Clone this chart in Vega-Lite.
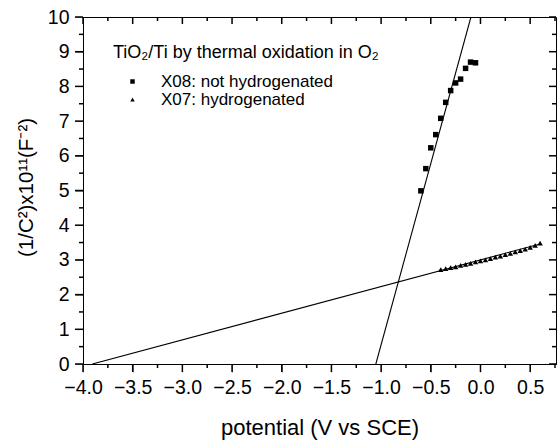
{
  "$schema": "https://vega.github.io/schema/vega-lite/v6.json",
  "autosize": {"type": "none"},
  "padding": {"left": 83, "top": 17, "right": 3, "bottom": 82},
  "width": 473,
  "height": 347,
  "background": "white",
  "config": {
    "view": {"stroke": "black", "strokeWidth": 1},
    "font": "Liberation Sans",
    "tick": {"thickness": 1.5, "opacity": 1},
    "axis": {
      "domainColor": "black",
      "domainWidth": 1,
      "labelColor": "black",
      "titleColor": "black",
      "labelFont": "Liberation Sans",
      "titleFont": "Liberation Sans",
      "titleFontWeight": "normal",
      "grid": false
    }
  },
  "datasets": {
    "fits": [
      {"line": "steep", "v": -1.053, "c": 0},
      {"line": "steep", "v": -0.096, "c": 10},
      {"line": "shallow", "v": -3.906, "c": 0},
      {"line": "shallow", "v": 0.6, "c": 3.46}
    ],
    "xticks": [
      {"v": -4, "kind": "major"}, {"v": -3.75, "kind": "minor"},
      {"v": -3.5, "kind": "major"}, {"v": -3.25, "kind": "minor"},
      {"v": -3, "kind": "major"}, {"v": -2.75, "kind": "minor"},
      {"v": -2.5, "kind": "major"}, {"v": -2.25, "kind": "minor"},
      {"v": -2, "kind": "major"}, {"v": -1.75, "kind": "minor"},
      {"v": -1.5, "kind": "major"}, {"v": -1.25, "kind": "minor"},
      {"v": -1, "kind": "major"}, {"v": -0.75, "kind": "minor"},
      {"v": -0.5, "kind": "major"}, {"v": -0.25, "kind": "minor"},
      {"v": 0, "kind": "major"}, {"v": 0.25, "kind": "minor"},
      {"v": 0.5, "kind": "major"}, {"v": 0.75, "kind": "minor"}
    ],
    "yticks": [
      {"c": 0, "kind": "major"}, {"c": 0.5, "kind": "minor"},
      {"c": 1, "kind": "major"}, {"c": 1.5, "kind": "minor"},
      {"c": 2, "kind": "major"}, {"c": 2.5, "kind": "minor"},
      {"c": 3, "kind": "major"}, {"c": 3.5, "kind": "minor"},
      {"c": 4, "kind": "major"}, {"c": 4.5, "kind": "minor"},
      {"c": 5, "kind": "major"}, {"c": 5.5, "kind": "minor"},
      {"c": 6, "kind": "major"}, {"c": 6.5, "kind": "minor"},
      {"c": 7, "kind": "major"}, {"c": 7.5, "kind": "minor"},
      {"c": 8, "kind": "major"}, {"c": 8.5, "kind": "minor"},
      {"c": 9, "kind": "major"}, {"c": 9.5, "kind": "minor"},
      {"c": 10, "kind": "major"}
    ],
    "measured": [
      {"series": "X08: not hydrogenated", "v": -0.6, "c": 4.99},
      {"series": "X08: not hydrogenated", "v": -0.55, "c": 5.63},
      {"series": "X08: not hydrogenated", "v": -0.5, "c": 6.23},
      {"series": "X08: not hydrogenated", "v": -0.45, "c": 6.61},
      {"series": "X08: not hydrogenated", "v": -0.4, "c": 7.08},
      {"series": "X08: not hydrogenated", "v": -0.35, "c": 7.54},
      {"series": "X08: not hydrogenated", "v": -0.3, "c": 7.88},
      {"series": "X08: not hydrogenated", "v": -0.25, "c": 8.1},
      {"series": "X08: not hydrogenated", "v": -0.2, "c": 8.21},
      {"series": "X08: not hydrogenated", "v": -0.15, "c": 8.52},
      {"series": "X08: not hydrogenated", "v": -0.1, "c": 8.7},
      {"series": "X08: not hydrogenated", "v": -0.05, "c": 8.68},
      {"series": "X07: hydrogenated", "v": -0.4, "c": 2.72},
      {"series": "X07: hydrogenated", "v": -0.35, "c": 2.75},
      {"series": "X07: hydrogenated", "v": -0.3, "c": 2.78},
      {"series": "X07: hydrogenated", "v": -0.25, "c": 2.8},
      {"series": "X07: hydrogenated", "v": -0.2, "c": 2.84},
      {"series": "X07: hydrogenated", "v": -0.15, "c": 2.87},
      {"series": "X07: hydrogenated", "v": -0.1, "c": 2.9},
      {"series": "X07: hydrogenated", "v": -0.05, "c": 2.94},
      {"series": "X07: hydrogenated", "v": 0.0, "c": 2.97},
      {"series": "X07: hydrogenated", "v": 0.05, "c": 3.0},
      {"series": "X07: hydrogenated", "v": 0.1, "c": 3.04},
      {"series": "X07: hydrogenated", "v": 0.15, "c": 3.08},
      {"series": "X07: hydrogenated", "v": 0.2, "c": 3.11},
      {"series": "X07: hydrogenated", "v": 0.25, "c": 3.15},
      {"series": "X07: hydrogenated", "v": 0.3, "c": 3.19},
      {"series": "X07: hydrogenated", "v": 0.35, "c": 3.23},
      {"series": "X07: hydrogenated", "v": 0.4, "c": 3.27},
      {"series": "X07: hydrogenated", "v": 0.45, "c": 3.31},
      {"series": "X07: hydrogenated", "v": 0.5, "c": 3.36},
      {"series": "X07: hydrogenated", "v": 0.55, "c": 3.42},
      {"series": "X07: hydrogenated", "v": 0.6, "c": 3.48}
    ]
  },
  "layer": [
    {
      "data": {"name": "fits"},
      "mark": {"type": "line", "color": "black", "strokeWidth": 1.1, "clip": true},
      "encoding": {
        "x": {
          "field": "v", "type": "quantitative",
          "scale": {"domain": [-4, 0.76], "nice": false, "zero": false},
          "axis": {
            "orient": "bottom",
            "title": "potential (V vs SCE)",
            "titleFontSize": 22,
            "titleBaseline": "alphabetic",
            "titleY": 70,
            "values": [-4, -3.5, -3, -2.5, -2, -1.5, -1, -0.5, 0, 0.5],
            "format": ".1f",
            "labelFontSize": 19.5,
            "labelPadding": 6,
            "labelFlush": false,
            "labelOverlap": false,
            "tickSize": 8
          }
        },
        "y": {
          "field": "c", "type": "quantitative",
          "scale": {"domain": [0, 10], "nice": false},
          "axis": {
            "orient": "left",
            "title": "(1/C²)x10¹¹(F⁻²)",
            "titleFontSize": 20.5,
            "titleX": -47,
            "titleY": 170,
            "titleAngle": -90,
            "titleBaseline": "bottom",
            "titleAlign": "center",
            "values": [0, 1, 2, 3, 4, 5, 6, 7, 8, 9, 10],
            "format": ".0f",
            "labelFontSize": 19.5,
            "labelPadding": 6,
            "labelFlush": false,
            "labelOverlap": false,
            "tickSize": 8
          }
        },
        "detail": {"field": "line"}
      }
    },
    {
      "data": {"name": "xticks"},
      "transform": [{"filter": "datum.kind === 'major'"}],
      "mark": {"type": "tick", "color": "black", "opacity": 1, "orient": "vertical", "size": 8, "clip": false},
      "encoding": {
        "x": {"field": "v", "type": "quantitative", "axis": null},
        "y": {"datum": -0.1153, "type": "quantitative", "axis": null}
      }
    },
    {
      "data": {"name": "xticks"},
      "transform": [{"filter": "datum.kind === 'minor'"}],
      "mark": {"type": "tick", "color": "black", "opacity": 1, "orient": "vertical", "size": 4, "clip": false},
      "encoding": {
        "x": {"field": "v", "type": "quantitative", "axis": null},
        "y": {"datum": -0.0576, "type": "quantitative", "axis": null}
      }
    },
    {
      "data": {"name": "xticks"},
      "transform": [{"filter": "datum.kind === 'major'"}],
      "mark": {"type": "tick", "color": "black", "opacity": 1, "orient": "vertical", "size": 7, "clip": false},
      "encoding": {
        "x": {"field": "v", "type": "quantitative", "axis": null},
        "y": {"datum": 9.899, "type": "quantitative", "axis": null}
      }
    },
    {
      "data": {"name": "xticks"},
      "transform": [{"filter": "datum.kind === 'minor'"}],
      "mark": {"type": "tick", "color": "black", "opacity": 1, "orient": "vertical", "size": 4, "clip": false},
      "encoding": {
        "x": {"field": "v", "type": "quantitative", "axis": null},
        "y": {"datum": 9.9424, "type": "quantitative", "axis": null}
      }
    },
    {
      "data": {"name": "yticks"},
      "transform": [{"filter": "datum.kind === 'major'"}],
      "mark": {"type": "tick", "color": "black", "opacity": 1, "orient": "horizontal", "size": 8, "clip": false},
      "encoding": {
        "y": {"field": "c", "type": "quantitative", "axis": null},
        "x": {"datum": -4.0403, "type": "quantitative", "axis": null}
      }
    },
    {
      "data": {"name": "yticks"},
      "transform": [{"filter": "datum.kind === 'minor'"}],
      "mark": {"type": "tick", "color": "black", "opacity": 1, "orient": "horizontal", "size": 4, "clip": false},
      "encoding": {
        "y": {"field": "c", "type": "quantitative", "axis": null},
        "x": {"datum": -4.0201, "type": "quantitative", "axis": null}
      }
    },
    {
      "data": {"name": "yticks"},
      "transform": [{"filter": "datum.kind === 'major'"}],
      "mark": {"type": "tick", "color": "black", "opacity": 1, "orient": "horizontal", "size": 7, "clip": false},
      "encoding": {
        "y": {"field": "c", "type": "quantitative", "axis": null},
        "x": {"datum": 0.7248, "type": "quantitative", "axis": null}
      }
    },
    {
      "data": {"name": "yticks"},
      "transform": [{"filter": "datum.kind === 'minor'"}],
      "mark": {"type": "tick", "color": "black", "opacity": 1, "orient": "horizontal", "size": 4, "clip": false},
      "encoding": {
        "y": {"field": "c", "type": "quantitative", "axis": null},
        "x": {"datum": 0.7399, "type": "quantitative", "axis": null}
      }
    },
    {
      "data": {"name": "measured"},
      "mark": {"type": "point", "filled": true, "opacity": 1, "size": 30},
      "encoding": {
        "x": {"field": "v", "type": "quantitative", "axis": null},
        "y": {"field": "c", "type": "quantitative", "axis": null},
        "shape": {
          "field": "series", "type": "nominal",
          "scale": {"domain": ["X08: not hydrogenated", "X07: hydrogenated"], "range": ["square", "triangle-up"]},
          "legend": {
            "orient": "none",
            "legendX": 30,
            "legendY": 27,
            "title": "TiO₂/Ti by thermal oxidation in O₂",
            "titleFont": "Liberation Sans",
            "titleFontSize": 18,
            "titleFontWeight": "normal",
            "titleColor": "black",
            "titlePadding": 11,
            "titleLimit": 400,
            "labelFont": "Liberation Sans",
            "labelFontSize": 17,
            "labelColor": "black",
            "labelLimit": 400,
            "labelOffset": 20,
            "symbolSize": 20,
            "symbolOffset": 11,
            "symbolFillColor": "black",
            "symbolStrokeColor": "black",
            "symbolStrokeWidth": 0,
            "rowPadding": 0
          }
        },
        "color": {"value": "black"}
      }
    }
  ],
  "resolve": {"axis": {"x": "independent", "y": "independent"}}
}
